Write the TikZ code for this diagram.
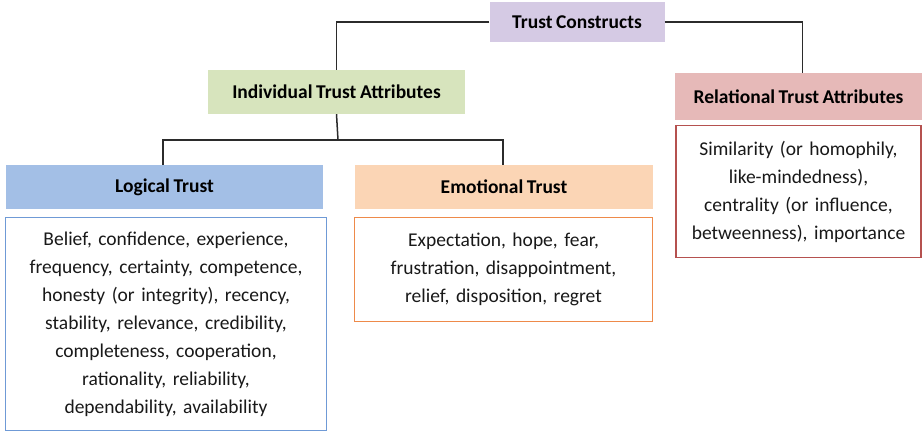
\documentclass[tikz,border=0pt]{standalone}
\usepackage{fontspec}
\setmainfont{Carlito}[WordSpace=0.8]
\definecolor{lav}{HTML}{D5CAE4}
\definecolor{grn}{HTML}{D7E4BD}
\definecolor{pnk}{HTML}{E6B9B8}
\definecolor{blu}{HTML}{A3BFE6}
\definecolor{pch}{HTML}{FBD5B5}
\definecolor{bluB}{HTML}{6F9AD6}
\definecolor{orgB}{HTML}{EE8A4A}
\definecolor{redB}{HTML}{B5514F}
\definecolor{ln}{HTML}{2B2B2B}
\tikzset{
  hdr/.style={draw=none, inner sep=0pt, font=\fontsize{19.5}{22}\selectfont\bfseries, text=black},
  body/.style={fill=white, line width=1.3pt, inner sep=0pt, align=center, font=\fontsize{19.5}{28}\selectfont, text=black!90},
  conn/.style={draw=ln, line width=1.5pt}
}
\begin{document}
\begin{tikzpicture}[x=1pt,y=-1pt]
\useasboundingbox (0,0) rectangle (924,435);
\node[hdr, fill=lav, minimum width=175pt, minimum height=40pt] (tc) at (577,22) {Trust Constructs};
\node[hdr, fill=grn, minimum width=257pt, minimum height=44pt] (ind) at (336.5,92) {Individual Trust Attributes};
\node[hdr, fill=pnk, minimum width=247pt, minimum height=47pt] (rel) at (798.5,96.5) {Relational Trust Attributes};
\node[body, draw=redB, minimum width=245pt, minimum height=132pt, text width=240pt] (relc) at (798.5,191.5) {Similarity (or homophily,\\like-mindedness),\\centrality (or influence,\\betweenness), importance};
\node[hdr, fill=blu, minimum width=317pt, minimum height=44pt] (log) at (164.5,187) {Logical Trust};
\node[body, draw=bluB, minimum width=321pt, minimum height=213pt, text width=315pt] (logc) at (166,324) {Belief, confidence, experience,\\frequency, certainty, competence,\\honesty (or integrity), recency,\\stability, relevance, credibility,\\completeness, cooperation,\\rationality, reliability,\\dependability, availability};
\node[hdr, fill=pch, minimum width=298pt, minimum height=44pt] (emo) at (504,187) {Emotional Trust};
\node[body, draw=orgB, minimum width=298pt, minimum height=104pt, text width=292pt] (emoc) at (503.5,269.5) {Expectation, hope, fear,\\frustration, disappointment,\\relief, disposition, regret};
\coordinate (j) at (338,140);
\draw[conn] (tc.west) -| (ind.north);
\draw[conn] (tc.east) -| ([xshift=4pt]rel.north);
\draw[conn] (ind.south) -- (j);
\draw[conn] ([xshift=-1.5pt]log.north) |- (j) -| ([xshift=-1pt]emo.north);
\end{tikzpicture}
\end{document}
